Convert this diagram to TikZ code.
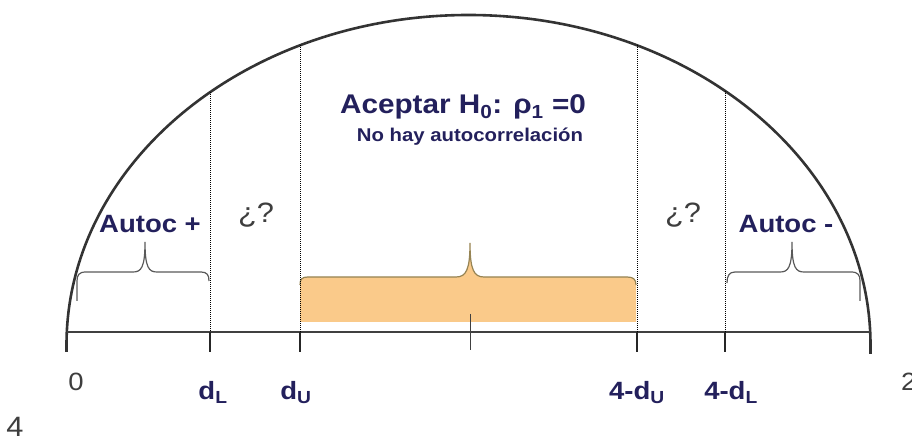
\documentclass[tikz,border=0pt]{standalone}
\usepackage{fontspec}
\setmainfont{Liberation Sans}[FakeStretch=1.1]
\usepackage{tikz}
\usetikzlibrary{positioning}
\usepackage{xcolor}
\definecolor{navy}{RGB}{35,32,92}
\definecolor{ink}{RGB}{62,62,62}
\definecolor{band}{RGB}{250,202,138}
\definecolor{bandline}{RGB}{150,132,84}
\tikzset{
  lbl/.style={font=\bfseries\fontsize{25}{28}\selectfont, text=navy, inner sep=0pt},
  num/.style={font=\fontsize{25}{28}\selectfont, text=ink, inner sep=0pt},
  qmark/.style={font=\fontsize{28}{30}\selectfont, text=ink, inner sep=0pt},
  boundline/.style={black, line width=0.9pt, dash pattern=on 1pt off 1pt},
  tickline/.style={black!85, line width=1.3pt},
  bracket/.style={black!65, line width=1.2pt}
}

\begin{document}
\begin{tikzpicture}[x=1pt,y=1pt]
  \useasboundingbox (0,0) rectangle (912,438);

  %% Acceptance band with brace on top
  \fill[band] (300,116) -- (300,153) .. controls (300,159) and (302,161) .. (308,161)
    -- (456,161) .. controls (466,161) and (470,168) .. (470,195)
    .. controls (470,168) and (474,161) .. (484,161)
    -- (627,161) .. controls (633,161) and (636,159) .. (636,153) -- (636,116) -- cycle;
  \draw[bandline, line width=1.2pt] (300,153) .. controls (300,159) and (302,161) .. (308,161)
    -- (456,161) .. controls (466,161) and (470,168) .. (470,195)
    .. controls (470,168) and (474,161) .. (484,161)
    -- (627,161) .. controls (633,161) and (636,159) .. (636,153);

  %% Half ellipse
  \draw[black!80, line width=2.6pt] (66.5,86) -- (66.5,93)
    arc[start angle=180, end angle=0, x radius=402pt, y radius=330pt] -- (870.5,84);

  %% Axis
  \draw[black!75, line width=2pt] (67,106) coordinate (zero) -- (870,106) coordinate (four);

  %% Critical values
  \foreach \xx in {210,300,637,725} {
    \pgfmathsetmacro{\yy}{93+330*sqrt(1-((\xx-468.5)/402)^2)}
    \draw[boundline] (\xx,\yy) -- (\xx,106);
    \draw[tickline] (\xx,106) -- (\xx,86);
  }
  \draw[black!75, line width=1pt] (470,124) -- (470,88);

  %% Braces
  \draw[bracket] (77,137) -- (77,157) .. controls (77,163) and (79,166) .. (86,166)
    -- (133,166) .. controls (141,166) and (145,170) .. (145,196)
    .. controls (145,170) and (149,166) .. (157,166)
    -- (201,166) .. controls (207,166) and (209,163) .. (209,157);
  \draw[bracket] (727,155) .. controls (727,162) and (729,166) .. (735,166)
    -- (780,166) .. controls (788,166) and (792,170) .. (792,196)
    .. controls (792,170) and (796,166) .. (804,166)
    -- (851,166) .. controls (858,166) and (860,163) .. (860,157) -- (860,137);

  %% Labels
  \node[lbl, font=\bfseries\fontsize{27}{30}\selectfont, anchor=base] (accept) at (463,324)
    {Aceptar H\textsubscript{0}: ρ\textsubscript{1} =0};
  \node[lbl, font=\bfseries\fontsize{18.5}{20}\selectfont, anchor=base] (noauto) at (470,296)
    {No hay autocorrelación};
  \node[lbl, anchor=base] (autpos) at (150,205) {Autoc +};
  \node[lbl, anchor=base] (autneg) at (786,205) {Autoc -};
  \node[qmark, anchor=base] (qleft) at (256,215) {¿?};
  \node[qmark, anchor=base] (qright) at (683,215) {¿?};

  \node[num, anchor=base] (lzero) at (76,47) {0};
  \node[lbl, anchor=base] (ldl) at (213,38) {d\textsubscript{L}};
  \node[lbl, anchor=base] (ldu) at (296,38) {d\textsubscript{U}};
  \node[lbl, anchor=base] (ludu) at (637,38) {4-d\textsubscript{U}};
  \node[lbl, anchor=base] (ludl) at (731,38) {4-d\textsubscript{L}};
  \node[num, anchor=base west] (lfour) at (901,47) {2};
  \node[num, font=\fontsize{28}{30}\selectfont, anchor=base] (lpage) at (15,1) {4};
\end{tikzpicture}
\end{document}
